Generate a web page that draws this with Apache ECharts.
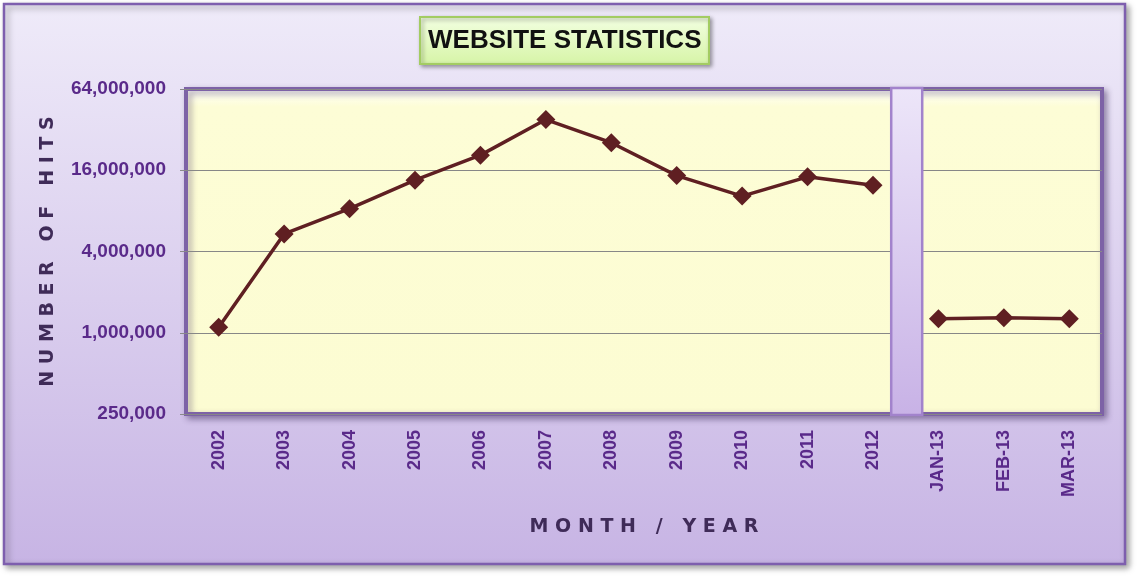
<!DOCTYPE html>
<html>
<head>
<meta charset="utf-8">
<script src="https://cdn.jsdelivr.net/npm/echarts@6/dist/echarts.min.js"></script>
<style>
html,body{margin:0;padding:0;background:#ffffff;}
#chart{width:1138px;height:578px;}
</style>
</head>
<body>
<div id="chart"></div>
<script>
var categories = ['2002','2003','2004','2005','2006','2007','2008','2009','2010','2011','2012','JAN-13','FEB-13','MAR-13'];
var yearlyHits = [1100000, 5400000, 8300000, 13500000, 20700000, 38000000, 25600000, 14600000, 10300000, 14300000, 12400000];
var monthlyHits = [1270000, 1290000, 1270000];
var yTicks = [250000, 1000000, 4000000, 16000000, 64000000];
var titleText = 'WEBSITE STATISTICS';
var yName = 'N U M B E R   O F   H I T S';
var xName = 'M O N T H   /   Y E A R';

var yearlySeries = yearlyHits.concat(monthlyHits.map(function(){return '-';}));
var monthlySeries = yearlyHits.map(function(){return '-';}).concat(monthlyHits);

var chart = echarts.init(document.getElementById('chart'));
var lineColor = '#5f1f22';
var labelColor = '#5a2a8a';
var nameColor = '#3f2b58';

function lineSeries(data) {
  return {
    type: 'line',
    data: data,
    symbol: 'diamond',
    symbolSize: 19,
    lineStyle: {color: lineColor, width: 3.5},
    itemStyle: {color: lineColor},
    connectNulls: false,
    silent: true,
    z: 5
  };
}

chart.setOption({
  animation: false,
  backgroundColor: 'transparent',
  title: {
    text: titleText,
    left: 420,
    top: 17,
    padding: [11, 8, 10, 8],
    backgroundColor: {
      type: 'linear', x: 0, y: 0, x2: 0, y2: 1,
      colorStops: [{offset: 0, color: '#f3ffe2'}, {offset: 1, color: '#d6f4a6'}]
    },
    borderColor: '#a3cc62',
    borderWidth: 2,
    shadowBlur: 4,
    shadowColor: 'rgba(0,0,0,0.35)',
    shadowOffsetX: 2,
    shadowOffsetY: 2,
    textStyle: {
      fontFamily: 'Liberation Sans',
      fontWeight: 'bold',
      fontSize: 26,
      color: '#111111'
    }
  },
  grid: {
    left: 186,
    right: 36,
    top: 89,
    bottom: 164,
    show: true,
    backgroundColor: {
      type: 'linear', x: 0, y: 0, x2: 0, y2: 1,
      colorStops: [
        {offset: 0, color: '#ffffff'},
        {offset: 0.06, color: '#fdfdd6'},
        {offset: 1, color: '#fcfcd2'}
      ]
    },
    borderColor: '#7d62a6',
    borderWidth: 4,
    shadowBlur: 6,
    shadowColor: 'rgba(60,40,90,0.45)',
    shadowOffsetX: 3,
    shadowOffsetY: 3
  },
  xAxis: {
    type: 'category',
    data: categories,
    boundaryGap: true,
    axisLine: {show: false},
    axisTick: {show: false},
    axisLabel: {
      rotate: 90,
      margin: 16,
      color: labelColor,
      fontFamily: 'Liberation Sans',
      fontWeight: 'bold',
      fontSize: 18,
      interval: 0
    },
    name: xName,
    nameLocation: 'middle',
    nameGap: 104,
    nameTextStyle: {
      fontFamily: 'DejaVu Sans',
      fontWeight: 'bold',
      fontSize: 19,
      color: nameColor
    }
  },
  yAxis: {
    type: 'log',
    logBase: 4,
    min: yTicks[0],
    max: yTicks[yTicks.length - 1],
    axisLine: {show: false},
    axisTick: {show: true, length: 6, lineStyle: {color: '#8a8a8a'}, customValues: yTicks},
    splitLine: {show: true, lineStyle: {color: '#878787', width: 1}},
    axisLabel: {
      customValues: yTicks,
      margin: 20,
      color: labelColor,
      fontFamily: 'Liberation Sans',
      fontWeight: 'bold',
      fontSize: 19,
      formatter: function (v) { return Math.round(v).toLocaleString('en-US'); }
    },
    name: yName,
    nameLocation: 'middle',
    nameRotate: 90,
    nameGap: 128,
    nameTextStyle: {
      fontFamily: 'DejaVu Sans',
      fontWeight: 'bold',
      fontSize: 19,
      color: nameColor
    }
  },
  series: [lineSeries(yearlySeries), lineSeries(monthlySeries)]
});

function drawDecor() {
  var x10 = chart.convertToPixel({xAxisIndex: 0}, categories[yearlyHits.length - 1]);
  var x11 = chart.convertToPixel({xAxisIndex: 0}, categories[yearlyHits.length]);
  var yTop = chart.convertToPixel({yAxisIndex: 0}, yTicks[yTicks.length - 1]);
  var yBot = chart.convertToPixel({yAxisIndex: 0}, yTicks[0]);
  var sepW = 31;
  var sepX = (x10 + x11) / 2 - sepW / 2 + 1;
  chart.setOption({
    graphic: [
      {
        type: 'rect',
        z: -10,
        zlevel: 0,
        silent: true,
        shape: {x: 4, y: 4, width: 1121, height: 560},
        style: {
          fill: {
            type: 'linear', x: 0, y: 0, x2: 0, y2: 1,
            colorStops: [{offset: 0, color: '#efebf9'}, {offset: 1, color: '#c7b4e4'}]
          },
          stroke: '#7e5fae',
          lineWidth: 2.5,
          shadowBlur: 6,
          shadowColor: 'rgba(0,0,0,0.35)',
          shadowOffsetX: 3,
          shadowOffsetY: 3
        }
      },
      {
        type: 'rect',
        z: 3,
        silent: true,
        shape: {x: sepX, y: yTop - 1, width: sepW, height: yBot - yTop + 2},
        style: {
          fill: {
            type: 'linear', x: 0, y: 0, x2: 0, y2: 1,
            colorStops: [{offset: 0, color: '#ede6f9'}, {offset: 1, color: '#c8b2e6'}]
          },
          stroke: '#a283cc',
          lineWidth: 2.5
        }
      }
    ]
  });
}
drawDecor();
</script>
</body>
</html>
